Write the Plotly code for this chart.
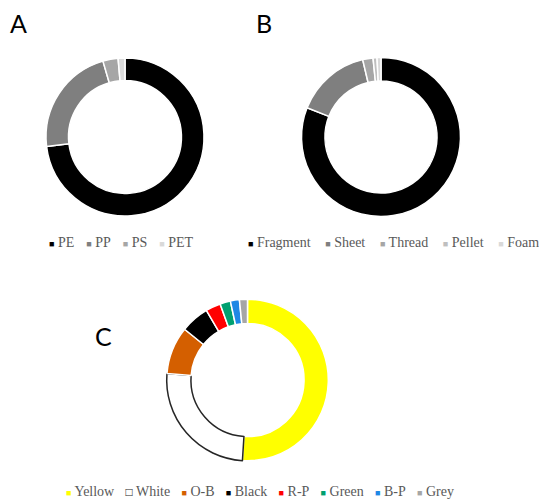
import plotly.graph_objects as go

W, H = 539, 502

# ---- data ----
polymer_labels = ["PE", "PP", "PS", "PET"]
polymer_values = [73.1, 22.4, 3.1, 1.4]
polymer_colors = ["#000000", "#7F7F7F", "#A6A6A6", "#D9D9D9"]

shape_labels = ["Fragment", "Sheet", "Thread", "Pellet", "Foam"]
shape_values = [81.0, 15.3, 2.1, 0.8, 0.8]
shape_colors = ["#000000", "#7F7F7F", "#A6A6A6", "#BFBFBF", "#D9D9D9"]

color_labels = ["Yellow", "White", "O-B", "Black", "R-P", "Green", "B-P", "Grey"]
color_values = [51.0, 25.3, 9.5, 5.7, 3.0, 2.1, 1.8, 1.6]
color_colors = ["#FFFF00", "#FFFFFF", "#D45F00", "#000000", "#FF0000", "#00A070", "#1E88E5", "#A6A6A6"]
color_edges = ["#FFFFFF", "#262626", "#FFFFFF", "#FFFFFF", "#FFFFFF", "#FFFFFF", "#FFFFFF", "#FFFFFF"]


def dom(cx, cy, r):
    return dict(x=[(cx - r) / W, (cx + r) / W], y=[1 - (cy + r) / H, 1 - (cy - r) / H])


fig = go.Figure()
fig.add_trace(go.Pie(labels=polymer_labels, values=polymer_values, hole=0.715, sort=False,
                     direction="clockwise", rotation=0, textinfo="none",
                     marker=dict(colors=polymer_colors, line=dict(color="#FFFFFF", width=1.5)),
                     domain=dom(125, 137, 79), showlegend=False))
fig.add_trace(go.Pie(labels=shape_labels, values=shape_values, hole=0.705, sort=False,
                     direction="clockwise", rotation=0, textinfo="none",
                     marker=dict(colors=shape_colors, line=dict(color="#FFFFFF", width=1.5)),
                     domain=dom(381, 137, 79.5), showlegend=False))
fig.add_trace(go.Pie(labels=color_labels, values=color_values, hole=0.70, sort=False,
                     direction="clockwise", rotation=0, textinfo="none",
                     marker=dict(colors=color_colors, line=dict(color=color_edges, width=1.5)),
                     domain=dom(247.5, 380, 80.8), showlegend=False))


def legend_text(labels, colors, gap_fs, squares=None):
    parts = []
    for i, (lab, col) in enumerate(zip(labels, colors)):
        sq, c, fs = "■", col, 9
        if squares and squares[i]:
            sq, c, fs = squares[i]
        parts.append(f"<span style='font-size:{fs}px;color:{c}'>{sq}</span> {lab}")
    sep = f"<span style='font-size:{gap_fs}px'>&nbsp;&nbsp;&nbsp;</span>"
    return sep.join(parts)


leg_font = dict(family="Liberation Serif", size=14, color="#595959")
anns = [
    dict(x=47 / W, y=1 - 241 / H, xanchor="left", yanchor="middle",
         text=legend_text(polymer_labels, polymer_colors, 16)),
    dict(x=246 / W, y=1 - 240 / H, xanchor="left", yanchor="middle",
         text=legend_text(shape_labels, shape_colors, 19.5)),
    dict(x=64 / W, y=1 - 491 / H, xanchor="left", yanchor="middle",
         text=legend_text(color_labels, color_colors, 15,
                          [None, ("□", "#1A1A1A", 12), None, None, None, None, None, None])),
]
for a in anns:
    a.update(xref="paper", yref="paper", showarrow=False, font=leg_font)

letter_font = dict(family="Lato", size=25, color="#000000")
for txt, x, y in [("A", 18, 23), ("B", 264, 23), ("C", 103, 336)]:
    anns.append(dict(x=x / W, y=1 - y / H, xref="paper", yref="paper", xanchor="center",
                     yanchor="middle", text=txt, showarrow=False, font=letter_font))

fig.update_layout(width=W, height=H, margin=dict(l=0, r=0, t=0, b=0),
                  paper_bgcolor="#FFFFFF", plot_bgcolor="#FFFFFF",
                  annotations=anns)

fig.write_html("out.html", config={"displayModeBar": False},
               post_script="document.body.style.margin='0';document.body.style.overflow='hidden';")
